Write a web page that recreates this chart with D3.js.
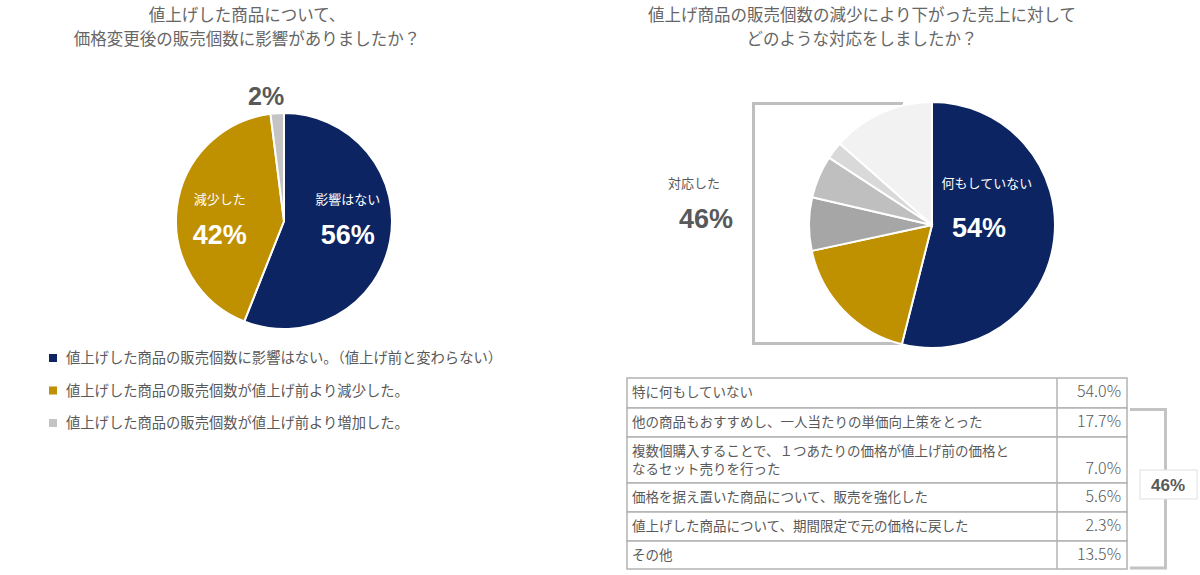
<!DOCTYPE html>
<html>
<head>
<meta charset="utf-8">
<script src="https://cdn.jsdelivr.net/npm/d3@7"></script>
<style>
	body { margin: 0; background: #fff; }
	svg { display: block; font-family: "Noto Sans CJK JP", "Noto Sans", sans-serif; }
	.num { font-family: "Liberation Sans", Arial, sans-serif; font-weight: bold; }
</style>
</head>
<body>
<svg width="1200" height="575"></svg>
<script>
// left chart
var leftTitle = ["値上げした商品について、", "価格変更後の販売個数に影響がありましたか？"];
var leftNames = ["影響はない", "減少した", ""];
var leftValues = [56, 42, 2];
var leftColors = ["#0c2461", "#bf9000", "#c4c4c4"];
var legendLabels = [
	"値上げした商品の販売個数に影響はない。（値上げ前と変わらない）",
	"値上げした商品の販売個数が値上げ前より減少した。",
	"値上げした商品の販売個数が値上げ前より増加した。"
];

// right chart
var rightTitle = ["値上げ商品の販売個数の減少により下がった売上に対して", "どのような対応をしましたか？"];
var rightValues = [54.0, 17.7, 7.0, 5.6, 2.3, 13.5];
var rightColors = ["#0c2461", "#bf9000", "#a6a6a6", "#bfbfbf", "#d9d9d9", "#f2f2f2"];
var tableLabels = [
	["特に何もしていない"],
	["他の商品もおすすめし、一人当たりの単価向上策をとった"],
	["複数個購入することで、１つあたりの価格が値上げ前の価格と", "なるセット売りを行った"],
	["価格を据え置いた商品について、販売を強化した"],
	["値上げした商品について、期間限定で元の価格に戻した"],
	["その他"]
];
var tableRowHeights = [30, 29, 46, 29, 29, 28];
var groupTotal = "46%";

var svg = d3.select("svg");
var textColor = "#595959";

function drawTitle(lines, cx) {
	svg.append("g").selectAll("text").data(lines).enter().append("text")
		.attr("x", cx)
		.attr("y", function(d, i) { return 21 + i * 24; })
		.attr("text-anchor", "middle")
		.attr("font-size", 16.5)
		.attr("fill", "#666")
		.text(function(d) { return d; });
}

drawTitle(leftTitle, 247);
drawTitle(rightTitle, 862);

var pie = d3.pie().sort(null).value(function(d) { return d; });

// ---- left pie
var lc = [284, 221], lr = 108;
var leftArc = d3.arc().innerRadius(0).outerRadius(lr);
var leftLabelArc = d3.arc().innerRadius(lr * 0.6).outerRadius(lr * 0.6);
var leftOuterArc = d3.arc().innerRadius(lr + 17).outerRadius(lr + 17);
var lg = svg.append("g").attr("transform", "translate(" + lc + ")");
var leftSlices = pie(leftValues);

lg.selectAll("path").data(leftSlices).enter().append("path")
	.attr("d", leftArc)
	.attr("fill", function(d, i) { return leftColors[i]; })
	.attr("stroke", "#fff")
	.attr("stroke-width", 2);

leftSlices.forEach(function(d, i) {
	if (leftNames[i]) {
		var x = leftLabelArc.centroid(d)[0];
		lg.append("text").attr("x", x).attr("y", -17).attr("text-anchor", "middle")
			.attr("font-size", 13).attr("fill", "#fff").text(leftNames[i]);
		lg.append("text").attr("class", "num").attr("x", x).attr("y", 23).attr("text-anchor", "middle")
			.attr("font-size", 27).attr("fill", "#fff").text(d.data + "%");
	} else {
		var p = leftOuterArc.centroid(d);
		lg.append("text").attr("class", "num").attr("x", p[0] - 10).attr("y", p[1] + 9).attr("text-anchor", "middle")
			.attr("font-size", 25).attr("fill", textColor).text(d.data + "%");
	}
});

// legend
var legend = svg.append("g").attr("transform", "translate(49,357)");
var li = legend.selectAll("g").data(legendLabels).enter().append("g")
	.attr("transform", function(d, i) { return "translate(0," + (i * 32.5) + ")"; });
li.append("rect").attr("x", 0).attr("y", -3).attr("width", 8).attr("height", 8)
	.attr("fill", function(d, i) { return leftColors[i]; });
li.append("text").attr("x", 17).attr("y", 6).attr("font-size", 14.3).attr("fill", textColor)
	.attr("font-feature-settings", "'fwid' 1")
	.text(function(d) { return d; });

// ---- right pie
var rc = [932, 225], rr = 123;
var rightArc = d3.arc().innerRadius(0).outerRadius(rr);
var rightLabelArc = d3.arc().innerRadius(rr * 0.45).outerRadius(rr * 0.45);
var rightSlices = pie(rightValues);

// bracket around the "responded" slices
svg.append("path")
	.attr("d", "M903,103.5H753.5V343.5H903")
	.attr("fill", "none")
	.attr("stroke", "#bfbfbf")
	.attr("stroke-width", 3);

var rg = svg.append("g").attr("transform", "translate(" + rc + ")");
rg.selectAll("path").data(rightSlices).enter().append("path")
	.attr("d", rightArc)
	.attr("fill", function(d, i) { return rightColors[i]; })
	.attr("stroke", "#fff")
	.attr("stroke-width", 2);

var nx = rightLabelArc.centroid(rightSlices[0])[0];
rg.append("text").attr("x", nx).attr("y", -37).attr("text-anchor", "middle")
	.attr("font-size", 13).attr("fill", "#fff").text("何もしていない");
rg.append("text").attr("class", "num").attr("x", nx - 8).attr("y", 12).attr("text-anchor", "middle")
	.attr("font-size", 27).attr("fill", "#fff").text(Math.round(rightValues[0]) + "%");

svg.append("text").attr("x", 694).attr("y", 188).attr("text-anchor", "middle")
	.attr("font-size", 13).attr("fill", textColor).text("対応した");
svg.append("text").attr("class", "num").attr("x", 706).attr("y", 228).attr("text-anchor", "middle")
	.attr("font-size", 27).attr("fill", textColor).text(groupTotal);

// ---- table
var tx = 627, ty = 378, tw = 500, valX = 1057;
var tops = [ty];
tableRowHeights.forEach(function(h, i) { tops.push(tops[i] + h); });

var table = svg.append("g");
table.selectAll("rect").data(tableRowHeights).enter().append("rect")
	.attr("x", tx).attr("y", function(d, i) { return tops[i]; })
	.attr("width", tw).attr("height", function(d) { return d; })
	.attr("fill", "#fff").attr("stroke", "#b3b3b3").attr("stroke-width", 1.5);
table.append("line").attr("x1", valX).attr("x2", valX)
	.attr("y1", ty).attr("y2", tops[tops.length - 1])
	.attr("stroke", "#b3b3b3").attr("stroke-width", 1.5);

tableLabels.forEach(function(lines, i) {
	lines.forEach(function(t, j) {
		table.append("text").attr("x", tx + 5).attr("y", tops[i] + 19 + j * 18)
			.attr("font-size", 13.5).attr("fill", textColor).text(t);
	});
	table.append("text").attr("x", tx + tw - 6).attr("y", tops[i] + 19 + (lines.length - 1) * 18)
		.attr("text-anchor", "end")
		.attr("font-size", 16).attr("font-weight", 300).attr("fill", textColor)
		.text(rightValues[i].toFixed(1) + "%");
});

// side bracket for table rows 2..6
var by0 = tops[1] + 1.5, by1 = tops[tops.length - 1] - 1;
svg.append("path")
	.attr("d", "M1130," + by0 + "H1165.5V" + by1 + "H1130")
	.attr("fill", "none").attr("stroke", "#c4c4c4").attr("stroke-width", 3);
svg.append("rect").attr("x", 1140).attr("y", 470).attr("width", 57).attr("height", 29)
	.attr("fill", "#fff").attr("stroke", "#e0e0e0").attr("stroke-width", 1);
svg.append("text").attr("class", "num").attr("x", 1168).attr("y", 491).attr("text-anchor", "middle")
	.attr("font-size", 17).attr("fill", textColor).text(groupTotal);
</script>
</body>
</html>
